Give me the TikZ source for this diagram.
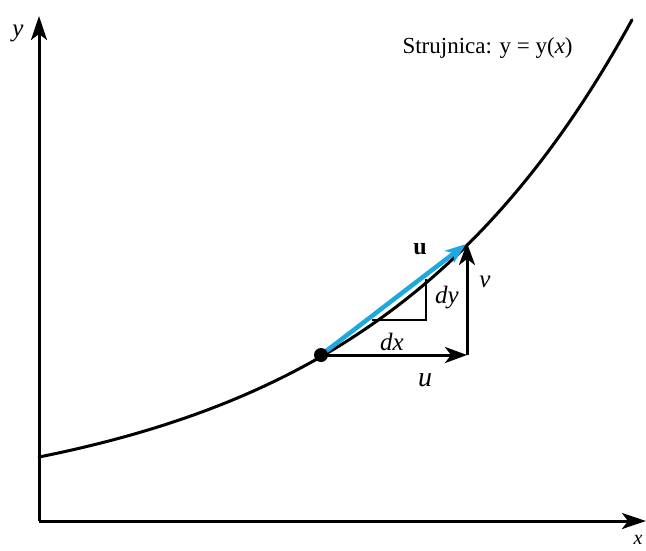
\documentclass[tikz,border=0pt]{standalone}
\usepackage{fontspec}
\setmainfont{Liberation Serif}
\usetikzlibrary{arrows.meta}
\definecolor{ublue}{RGB}{30,168,224}
\begin{document}
\begin{tikzpicture}[x=1pt,y=-1pt,
  axis/.style={line width=3pt,-{Stealth[length=24pt,width=16pt,inset=6pt]}},
  vec/.style={line width=3pt,-{Stealth[length=22pt,width=16pt,inset=6pt]}},
  lbl/.style={font=\fontsize{25}{28}\selectfont\itshape}]
\useasboundingbox (0,0) rectangle (646,550);
\coordinate (O) at (39,521);
\coordinate (Ytip) at (39,16);
\coordinate (Xtip) at (646,521);
\draw[axis] (O) -- (Ytip);
\draw[axis] (O) -- (Xtip);
\node[lbl] (ylab) at (18,33) {y};
\node[lbl, font=\fontsize{20}{22}\selectfont\itshape] (xlab) at (638,540) {x};
\draw[line width=3pt, line cap=round] plot[domain=39:632, samples=120]
  (\x, {521 - (10 + 54*exp(0.00373*(\x-39)))});
\coordinate (P) at (321,355);
\coordinate (Q) at (467,243);
\coordinate (R) at (467,355);
\draw[vec] (P) -- (R);
\draw[vec] (R) -- (Q);
\coordinate (T1) at (372,320);
\coordinate (T2) at (426,320);
\coordinate (T3) at (426,279);
\draw[line width=1.5pt] (T1) -- (T2) -- (T3);
\draw[ublue, line width=4.5pt, -{Stealth[length=21pt,width=15pt,inset=6pt]}] (P) -- (466,244);
\fill (P) circle (7);
\node[font=\fontsize{24}{26}\selectfont\bfseries] (ub) at (420,249) {u};
\node[lbl] (vl) at (485,282) {v};
\node[lbl] (dyl) at (447,298) {dy};
\node[lbl] (dxl) at (392,342) {dx};
\node[lbl, font=\fontsize{28}{30}\selectfont\itshape] (ul) at (425,380) {u};
\node[font=\fontsize{23}{26}\selectfont, anchor=west] (title) at (399,48) {Strujnica: y = y(\textit{x})};
\end{tikzpicture}
\end{document}
